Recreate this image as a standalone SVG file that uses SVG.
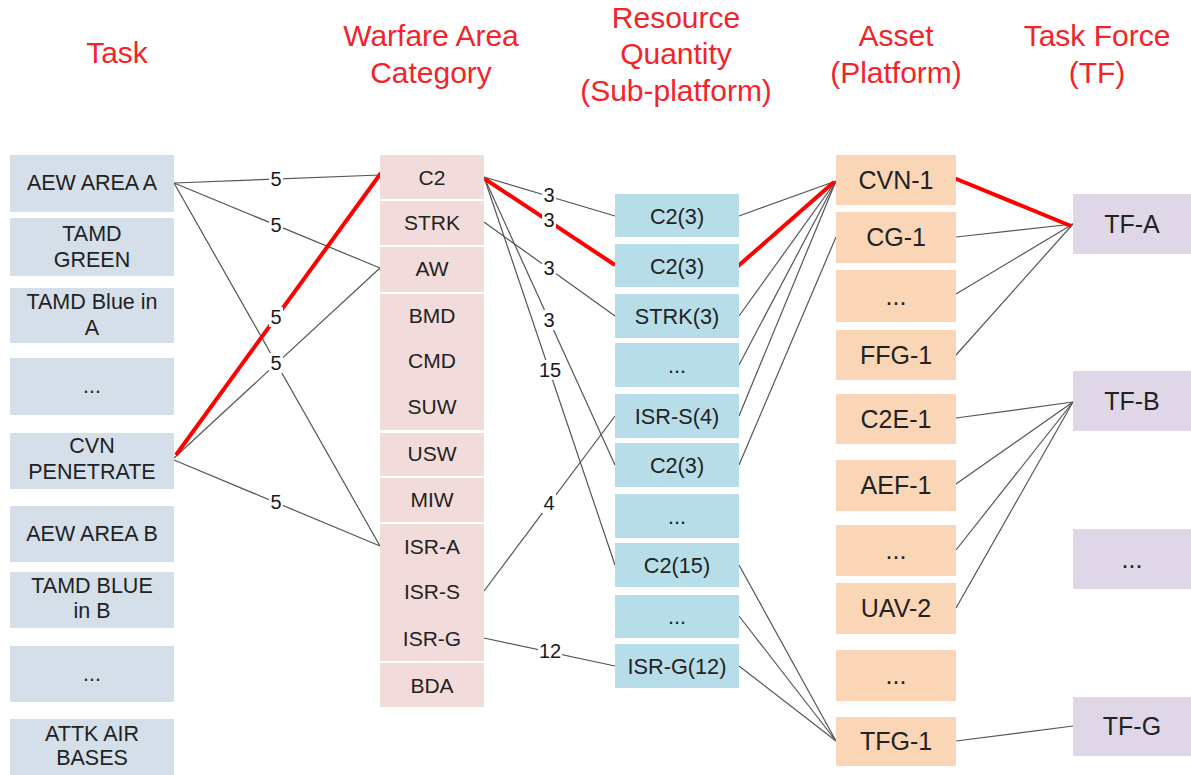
<svg xmlns="http://www.w3.org/2000/svg" width="1191" height="775" viewBox="0 0 1191 775">
<style>
text{font-family:"Liberation Sans",Arial,sans-serif;text-anchor:middle;dominant-baseline:central;fill:#222}
.hdr{font-size:30px;fill:#f2242a}
.t{font-size:21.5px}
.w{font-size:21px}
.r{font-size:21.7px}
.a{font-size:25px}
.lbl{font-size:20px;fill:#1a1a1a}
.task{fill:#d5dfea}
.wa{fill:#f2dcdb}
.rq{fill:#b7dde8}
.as{fill:#fbd6b6}
.tf{fill:#dfd7e7}
.ln{stroke:#555;stroke-width:1.2;fill:none}
.red{stroke:#f00;stroke-width:4;fill:none}
.lb{fill:#fff}
</style>
<rect width="1191" height="775" fill="#fff"/>
<g id="headers">
<text class="hdr" x="117" y="52">Task</text>
<text class="hdr" x="431" y="35">Warfare Area</text>
<text class="hdr" x="431" y="72">Category</text>
<text class="hdr" x="676" y="17">Resource</text>
<text class="hdr" x="676" y="53">Quantity</text>
<text class="hdr" x="676" y="90">(Sub-platform)</text>
<text class="hdr" x="896" y="35">Asset</text>
<text class="hdr" x="896" y="72">(Platform)</text>
<text class="hdr" x="1097" y="35">Task Force</text>
<text class="hdr" x="1097" y="72">(TF)</text>
</g>
<g id="connectors">
<line class="ln" x1="174" y1="183" x2="380" y2="175"/>
<line class="ln" x1="174" y1="183" x2="380" y2="268"/>
<line class="ln" x1="174" y1="183" x2="380" y2="546"/>
<line class="ln" x1="174" y1="458" x2="380" y2="268"/>
<line class="ln" x1="174" y1="460" x2="380" y2="546"/>
<line class="red" x1="176" y1="455" x2="381" y2="173"/>
<line class="ln" x1="484" y1="177" x2="615" y2="216"/>
<line class="ln" x1="484" y1="222" x2="615" y2="316"/>
<line class="ln" x1="484" y1="177" x2="615" y2="465"/>
<line class="ln" x1="484" y1="177" x2="615" y2="565"/>
<line class="ln" x1="484" y1="591" x2="615" y2="416"/>
<line class="ln" x1="484" y1="638" x2="615" y2="666"/>
<line class="red" x1="485" y1="179" x2="615" y2="265"/>
<line class="ln" x1="739" y1="216" x2="836" y2="181"/>
<line class="ln" x1="739" y1="316" x2="836" y2="181"/>
<line class="ln" x1="739" y1="365" x2="836" y2="181"/>
<line class="ln" x1="739" y1="416" x2="836" y2="181"/>
<line class="ln" x1="739" y1="465" x2="836" y2="237"/>
<line class="ln" x1="739" y1="565" x2="836" y2="741"/>
<line class="ln" x1="739" y1="616" x2="836" y2="741"/>
<line class="ln" x1="739" y1="666" x2="836" y2="741"/>
<line class="red" x1="737" y1="267" x2="834" y2="182"/>
<line class="ln" x1="956" y1="237" x2="1073" y2="224"/>
<line class="ln" x1="956" y1="294" x2="1073" y2="224"/>
<line class="ln" x1="956" y1="355" x2="1073" y2="224"/>
<line class="ln" x1="956" y1="418" x2="1073" y2="402"/>
<line class="ln" x1="956" y1="484" x2="1073" y2="402"/>
<line class="ln" x1="956" y1="550" x2="1073" y2="402"/>
<line class="ln" x1="956" y1="608" x2="1073" y2="402"/>
<line class="ln" x1="956" y1="741" x2="1073" y2="726"/>
<line class="red" x1="954" y1="178" x2="1071" y2="226"/>
<g id="edge-labels">
<rect class="lb" x="269" y="169" width="14" height="20"/><text class="lbl" x="276" y="179">5</text>
<rect class="lb" x="269" y="215" width="14" height="20"/><text class="lbl" x="276" y="225">5</text>
<rect class="lb" x="269" y="307" width="14" height="20"/><text class="lbl" x="276" y="317">5</text>
<rect class="lb" x="269" y="353" width="14" height="20"/><text class="lbl" x="276" y="363">5</text>
<rect class="lb" x="269" y="492" width="14" height="20"/><text class="lbl" x="276" y="502">5</text>
<rect class="lb" x="542" y="186" width="14" height="19"/><text class="lbl" x="549" y="195">3</text>
<rect class="lb" x="542" y="211" width="14" height="19"/><text class="lbl" x="549" y="220">3</text>
<rect class="lb" x="542" y="258" width="14" height="20"/><text class="lbl" x="549" y="268">3</text>
<rect class="lb" x="542" y="310" width="14" height="20"/><text class="lbl" x="549" y="320">3</text>
<rect class="lb" x="538" y="360" width="24" height="20"/><text class="lbl" x="550" y="370">15</text>
<rect class="lb" x="542" y="493" width="14" height="20"/><text class="lbl" x="549" y="503">4</text>
<rect class="lb" x="538" y="641" width="24" height="20"/><text class="lbl" x="550" y="651">12</text>
</g>
</g>
<g id="task-aew-a"><rect class="task" x="10" y="155" width="164" height="57"/><text class="t" x="92" y="183">AEW AREA A</text></g>
<g id="task-tamd-green"><rect class="task" x="10" y="218" width="164" height="58"/><text class="t" x="92" y="234">TAMD</text><text class="t" x="92" y="260">GREEN</text></g>
<g id="task-tamd-blue-a"><rect class="task" x="10" y="288" width="164" height="55"/><text class="t" x="92" y="302">TAMD Blue in</text><text class="t" x="92" y="328">A</text></g>
<g id="task-more-1"><rect class="task" x="10" y="358" width="164" height="57"/><text class="t" x="92" y="386">...</text></g>
<g id="task-cvn"><rect class="task" x="10" y="433" width="164" height="56"/><text class="t" x="92" y="446">CVN</text><text class="t" x="92" y="472">PENETRATE</text></g>
<g id="task-aew-b"><rect class="task" x="10" y="506" width="164" height="56"/><text class="t" x="92" y="534">AEW AREA B</text></g>
<g id="task-tamd-blue-b"><rect class="task" x="10" y="572" width="164" height="56"/><text class="t" x="92" y="586">TAMD BLUE</text><text class="t" x="92" y="611">in B</text></g>
<g id="task-more-2"><rect class="task" x="10" y="646" width="164" height="56"/><text class="t" x="92" y="674">...</text></g>
<g id="task-attk"><rect class="task" x="10" y="719" width="164" height="56"/><text class="t" x="92" y="734">ATTK AIR</text><text class="t" x="92" y="758">BASES</text></g>
<g id="wa-c2"><rect class="wa" x="380" y="155" width="104" height="44"/><text class="w" x="432" y="177">C2</text></g>
<g id="wa-strk"><rect class="wa" x="380" y="201" width="104" height="44"/><text class="w" x="432" y="222">STRK</text></g>
<g id="wa-aw"><rect class="wa" x="380" y="247" width="104" height="45"/><text class="w" x="432" y="268">AW</text></g>
<g id="wa-bmd-group"><rect class="wa" x="380" y="294" width="104" height="136"/><text class="w" x="432" y="315">BMD</text><text class="w" x="432" y="360">CMD</text><text class="w" x="432" y="406">SUW</text></g>
<g id="wa-usw"><rect class="wa" x="380" y="433" width="104" height="43"/><text class="w" x="432" y="453">USW</text></g>
<g id="wa-miw"><rect class="wa" x="380" y="478" width="104" height="44"/><text class="w" x="432" y="499">MIW</text></g>
<g id="wa-isr-group"><rect class="wa" x="380" y="524" width="104" height="137"/><text class="w" x="432" y="546">ISR-A</text><text class="w" x="432" y="591">ISR-S</text><text class="w" x="432" y="638">ISR-G</text></g>
<g id="wa-bda"><rect class="wa" x="380" y="663" width="104" height="44"/><text class="w" x="432" y="685">BDA</text></g>
<g id="rq-c2-3a"><rect class="rq" x="615" y="194" width="124" height="43"/><text class="r" x="677" y="216">C2(3)</text></g>
<g id="rq-c2-3b"><rect class="rq" x="615" y="244" width="124" height="43"/><text class="r" x="677" y="266">C2(3)</text></g>
<g id="rq-strk-3"><rect class="rq" x="615" y="294" width="124" height="44"/><text class="r" x="677" y="316">STRK(3)</text></g>
<g id="rq-more-1"><rect class="rq" x="615" y="343" width="124" height="44"/><text class="r" x="677" y="365">...</text></g>
<g id="rq-isr-s-4"><rect class="rq" x="615" y="394" width="124" height="44"/><text class="r" x="677" y="416">ISR-S(4)</text></g>
<g id="rq-c2-3c"><rect class="rq" x="615" y="443" width="124" height="44"/><text class="r" x="677" y="465">C2(3)</text></g>
<g id="rq-more-2"><rect class="rq" x="615" y="494" width="124" height="44"/><text class="r" x="677" y="516">...</text></g>
<g id="rq-c2-15"><rect class="rq" x="615" y="543" width="124" height="44"/><text class="r" x="677" y="565">C2(15)</text></g>
<g id="rq-more-3"><rect class="rq" x="615" y="595" width="124" height="43"/><text class="r" x="677" y="616">...</text></g>
<g id="rq-isr-g-12"><rect class="rq" x="615" y="644" width="124" height="44"/><text class="r" x="677" y="666">ISR-G(12)</text></g>
<g id="as-cvn-1"><rect class="as" x="836" y="155" width="120" height="50"/><text class="a" x="896" y="180">CVN-1</text></g>
<g id="as-cg-1"><rect class="as" x="836" y="212" width="120" height="51"/><text class="a" x="896" y="237">CG-1</text></g>
<g id="as-more-1"><rect class="as" x="836" y="270" width="120" height="52"/><text class="a" x="896" y="296">...</text></g>
<g id="as-ffg-1"><rect class="as" x="836" y="330" width="120" height="50"/><text class="a" x="896" y="355">FFG-1</text></g>
<g id="as-c2e-1"><rect class="as" x="836" y="394" width="120" height="50"/><text class="a" x="896" y="419">C2E-1</text></g>
<g id="as-aef-1"><rect class="as" x="836" y="460" width="120" height="51"/><text class="a" x="896" y="485">AEF-1</text></g>
<g id="as-more-2"><rect class="as" x="836" y="525" width="120" height="51"/><text class="a" x="896" y="550">...</text></g>
<g id="as-uav-2"><rect class="as" x="836" y="583" width="120" height="51"/><text class="a" x="896" y="608">UAV-2</text></g>
<g id="as-more-3"><rect class="as" x="836" y="650" width="120" height="51"/><text class="a" x="896" y="675">...</text></g>
<g id="as-tfg-1"><rect class="as" x="836" y="717" width="120" height="49"/><text class="a" x="896" y="741">TFG-1</text></g>
<g id="tf-a"><rect class="tf" x="1073" y="194" width="118" height="60"/><text class="a" x="1132" y="224">TF-A</text></g>
<g id="tf-b"><rect class="tf" x="1073" y="371" width="118" height="60"/><text class="a" x="1132" y="401">TF-B</text></g>
<g id="tf-more"><rect class="tf" x="1073" y="529" width="118" height="60"/><text class="a" x="1132" y="559">...</text></g>
<g id="tf-g"><rect class="tf" x="1073" y="697" width="118" height="59"/><text class="a" x="1132" y="726">TF-G</text></g>
</svg>
